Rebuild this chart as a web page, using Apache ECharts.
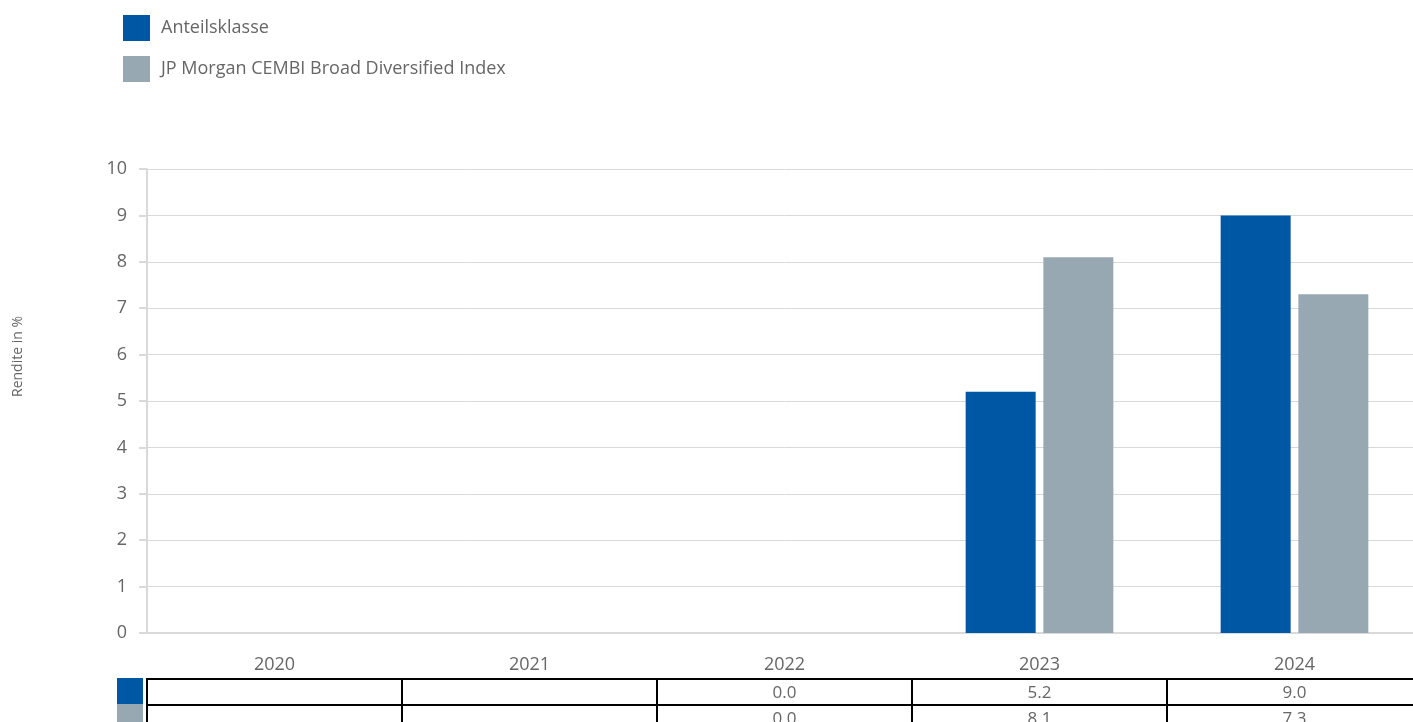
<!DOCTYPE html>
<html>
<head>
<meta charset="utf-8">
<script src="https://cdn.jsdelivr.net/npm/echarts@6/dist/echarts.min.js"></script>
<style>
  html, body { margin: 0; padding: 0; background: #fff; overflow: hidden; }
  /* der Plotbereich läuft rechts etwas über den sichtbaren Rand hinaus */
  #chart { width: 1422px; height: 722px; }
</style>
</head>
<body>
<div id="chart"></div>
<script>
// Daten
const years = ["2020", "2021", "2022", "2023", "2024"]
const fundValues = [null, null, 0.0, 5.2, 9.0]
const indexValues = [null, null, 0.0, 8.1, 7.3]
const seriesNames = ["Anteilsklasse", "JP Morgan CEMBI Broad Diversified Index"]
const seriesColors = ["#0057a4", "#97a8b3"]
const yTicks = [0, 10, 1] // min, max, interval

const fontFamily = "'Open Sans', 'Noto Sans', sans-serif"
const textColor = "#666666"

// Tabellenzellen unter der Achse
const tableRows = [fundValues, indexValues]
const tableData = []
tableRows.forEach(function (row, r) {
  row.forEach(function (v, i) {
    tableData.push([i, r, v == null ? "" : v.toFixed(1)])
  })
})

const myChart = echarts.init(document.getElementById("chart"))

const option = {
  animation: false,
  textStyle: { fontFamily: fontFamily },
  legend: {
    orient: "vertical",
    left: 118,
    top: 10,
    itemWidth: 27,
    itemHeight: 26,
    itemGap: 15,
    icon: "rect",
    data: seriesNames,
    textStyle: {
      fontSize: 18,
      color: textColor,
      fontFamily: fontFamily,
      padding: [2, 0, 0, 6]
    }
  },
  grid: {
    left: 147,
    top: 169,
    right: 0,
    bottom: 89
  },
  xAxis: {
    type: "category",
    data: years,
    axisLine: { lineStyle: { color: "#d9d9d9", width: 2 } },
    axisTick: { show: false },
    axisLabel: {
      fontSize: 18,
      color: textColor,
      margin: 23
    }
  },
  yAxis: {
    type: "value",
    min: yTicks[0],
    max: yTicks[1],
    interval: yTicks[2],
    axisLine: { show: true, lineStyle: { color: "#d9d9d9", width: 2 } },
    axisTick: { show: true, length: 8, lineStyle: { color: "#d9d9d9", width: 2 } },
    axisLabel: {
      fontSize: 18,
      color: textColor,
      margin: 20
    },
    splitLine: { lineStyle: { color: "#d9d9d9", width: 1 } }
  },
  graphic: [
    {
      type: "text",
      rotation: Math.PI / 2,
      style: {
        text: "Rendite in %",
        fill: textColor,
        font: "14px " + fontFamily
      },
      x: 11,
      y: 397
    }
  ],
  series: [
    {
      name: seriesNames[0],
      type: "bar",
      data: fundValues,
      barWidth: 70,
      barGap: "11%",
      itemStyle: { color: seriesColors[0] }
    },
    {
      name: seriesNames[1],
      type: "bar",
      data: indexValues,
      barWidth: 70,
      barGap: "11%",
      itemStyle: { color: seriesColors[1] }
    },
    {
      name: "table",
      type: "custom",
      clip: false,
      silent: true,
      data: tableData,
      encode: { x: 0 },
      renderItem: function (params, api) {
        const idx = api.value(0)
        const row = api.value(1)
        const base = api.coord([idx, 0])
        const w = api.size([1, 0])[0]
        const left = base[0] - w / 2
        const top = base[1] + 46 + row * 26
        const children = [
          {
            type: "rect",
            shape: { x: left, y: top, width: w, height: 26 },
            style: { fill: "none", stroke: "#000", lineWidth: 2 }
          },
          {
            type: "text",
            style: {
              text: tableData[params.dataIndex][2],
              x: base[0],
              y: top + 14,
              align: "center",
              verticalAlign: "middle",
              fill: textColor,
              font: "17px " + fontFamily
            }
          }
        ]
        if (idx === 0) {
          children.push({
            type: "rect",
            shape: { x: left - 30, y: top - 1, width: 26, height: 26 },
            style: { fill: seriesColors[row] }
          })
        }
        return { type: "group", children: children }
      }
    }
  ]
}
myChart.setOption(option)
</script>
</body>
</html>
